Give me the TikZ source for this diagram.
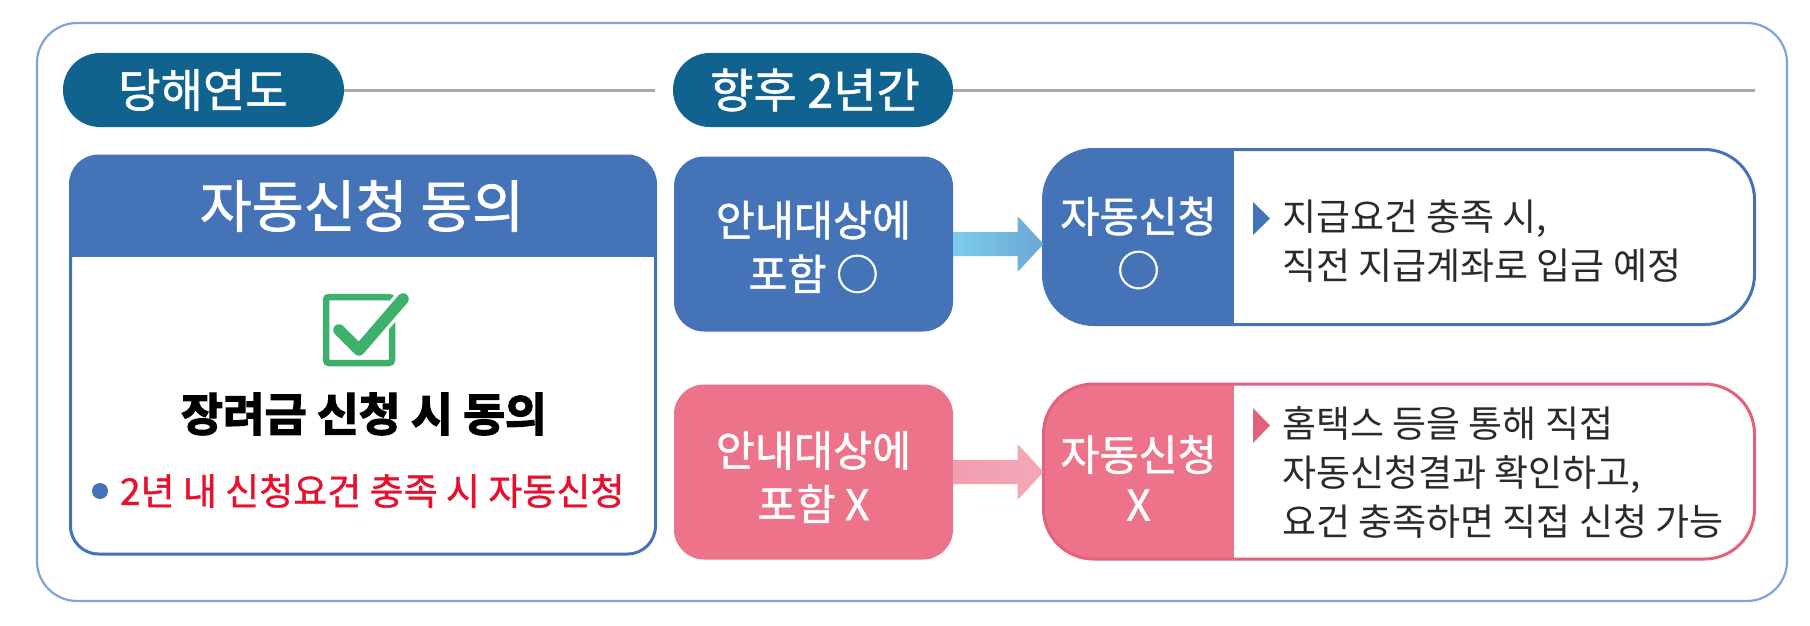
\documentclass[tikz,border=0pt]{standalone}
\usepackage{fontspec}
\usetikzlibrary{calc}
\setmainfont{Noto Sans CJK KR}
\newfontfamily\krmed[FakeBold=1.2]{Noto Sans CJK KR}
\newfontfamily\krred[FakeBold=1.1]{Noto Sans CJK KR}
\newfontfamily\krheavy[FakeBold=3.0]{Noto Sans CJK KR Bold}
\definecolor{outerline}{HTML}{7FA5D8}
\definecolor{teal}{HTML}{10628F}
\definecolor{blueb}{HTML}{4474B7}
\definecolor{pinkb}{HTML}{EC7389}
\definecolor{pinkline}{HTML}{E4607B}
\definecolor{grayline}{HTML}{A8A8A8}
\definecolor{redtext}{HTML}{E8112D}
\definecolor{bodytext}{HTML}{2A2A2A}
\definecolor{checkgreen}{HTML}{3DB16C}
\definecolor{arrowAl}{HTML}{7CCDEC}
\definecolor{arrowAr}{HTML}{6BA6D3}
\definecolor{arrowBl}{HTML}{F09FAE}
\definecolor{arrowBr}{HTML}{F4A8B6}
\newcommand{\fs}[2]{\fontsize{#1}{#2}\selectfont}
\tikzset{
  every node/.style={outer sep=0pt,inner sep=0pt},
  pillbox/.style={fill=teal,rounded corners=36.9pt,minimum width=#1,minimum height=74pt},
  pilltext/.style={text=white,font=\krmed},
  stepbox/.style={rounded corners=30pt,minimum width=279pt,minimum height=175pt,text=white,align=center},
  resultbox/.style 2 args={draw=#1,line width=3pt,fill=white,rounded corners=50pt,minimum width=711pt,minimum height=175pt,
    path picture={\fill[#2,sharp corners] (path picture bounding box.north west) rectangle ($(path picture bounding box.south west)+(190,0)$);}},
  resulthead/.style={text=white,align=center},
  bodyline/.style={anchor=west,align=left,text=bodytext,font=\fs{37}{49}},
  ruleline/.style={draw=grayline,line width=3pt},
}
\begin{document}
\begin{tikzpicture}[x=1pt,y=-1pt]
\useasboundingbox (0,0) rectangle (1810,626);
\fill[white] (0,0) rectangle (1810,626);
% outer frame
\node[draw=outerline,line width=2.2pt,rounded corners=40pt,minimum width=1750pt,minimum height=578pt] (frame) at (912,312) {};
% section pills
\node[pillbox=281pt] (pillA) at (203.5,90) {};
\node[pilltext,font=\krmed\fs{46}{50}] (pillAt) at (203,90) {당해연도};
\node[pillbox=280pt] (pillB) at (813,90) {};
\node[pilltext,font=\krmed\fs{47}{50}] (pillBt) at (815,90) {향후 2년간};
\coordinate (ruleAend) at (655,90);
\coordinate (ruleBend) at (1755,90);
\draw[ruleline] (pillA.east) -- (ruleAend);
\draw[ruleline] (pillB.east) -- (ruleBend);
% left card
\node[draw=blueb,line width=3pt,fill=white,rounded corners=28pt,minimum width=585pt,minimum height=398pt,
  path picture={\fill[blueb,sharp corners] (path picture bounding box.north west) rectangle ($(path picture bounding box.north east)+(0,101)$);}] (card) at (363,355) {};
\node[text=white,font=\krmed\fs{56.5}{60}] (cardhead) at (362,206) {자동신청 동의};
% check icon
\node[draw=checkgreen,line width=6.5pt,fill=white,rounded corners=3pt,minimum width=66pt,minimum height=66pt] (checkbox) at (359,330) {};
\coordinate (ck1) at (339,330);
\coordinate (ck2) at (359,350);
\coordinate (ck3) at (403,299);
\draw[white,line width=18pt,line cap=butt] (ck2) -- (ck3);
\draw[checkgreen,line width=11.5pt,line join=round,line cap=round] (ck1) -- (ck2) -- (ck3);
\node[text=black,font=\krheavy\fs{45.5}{50}] (agree) at (364,414) {장려금 신청 시 동의};
\node[circle,fill=blueb,minimum size=16pt] (bullet) at (100,491) {};
\node[anchor=west,text=redtext,font=\krred\fs{37}{44}] (redline) at (120,491) {2년 내 신청요건 충족 시 자동신청};
% upper row
\node[stepbox,fill=blueb,font=\krmed\fs{42.5}{54}] (stepA) at (813.5,244) {};
\node[text=white,align=center,font=\krmed\fs{42.5}{54}] (stepAt) at (813.5,247) {안내대상에\\포함 ○};
\node[resultbox={blueb}{blueb}] (resA) at (1399,237) {};
\node[resulthead,font=\krmed\fs{42.5}{54}] (resAh) at (1138.5,243) {자동신청\\○};
\node[bodyline] (resAt) at (1282,241) {지급요건 충족 시,\\직전 지급계좌로 입금 예정};
\coordinate (triA1) at (1253,202);
\coordinate (triA2) at (1270,218.5);
\coordinate (triA3) at (1253,235);
\fill[blueb] (triA1) -- (triA2) -- (triA3) -- cycle;
\shade[left color=arrowAl,right color=arrowAr]
  ($(stepA.east)+(0,-12)$) -- ($(stepA.east -| resA.west)+(-26,-12)$) -- ($(stepA.east -| resA.west)+(-26,-28)$)
  -- (stepA.east -| resA.west) -- ($(stepA.east -| resA.west)+(-26,28)$) -- ($(stepA.east -| resA.west)+(-26,12)$)
  -- ($(stepA.east)+(0,12)$) -- cycle;
% lower row
\node[stepbox,fill=pinkb] (stepB) at (813.5,472) {};
\node[text=white,align=center,font=\krmed\fs{42.5}{54}] (stepBt) at (813.5,477) {안내대상에\\포함 X};
\node[resultbox={pinkline}{pinkb}] (resB) at (1399,471.5) {};
\node[resulthead,font=\krmed\fs{42.5}{50}] (resBh) at (1138.5,478) {자동신청\\X};
\node[bodyline] (resBt) at (1282,472) {홈택스 등을 통해 직접\\자동신청결과 확인하고,\\요건 충족하면 직접 신청 가능};
\coordinate (triB1) at (1253,408);
\coordinate (triB2) at (1270,425.5);
\coordinate (triB3) at (1253,443);
\fill[pinkline] (triB1) -- (triB2) -- (triB3) -- cycle;
\shade[left color=arrowBl,right color=arrowBr]
  ($(stepB.east)+(0,-12)$) -- ($(stepB.east -| resB.west)+(-26,-12)$) -- ($(stepB.east -| resB.west)+(-26,-28)$)
  -- (stepB.east -| resB.west) -- ($(stepB.east -| resB.west)+(-26,28)$) -- ($(stepB.east -| resB.west)+(-26,12)$)
  -- ($(stepB.east)+(0,12)$) -- cycle;
\end{tikzpicture}
\end{document}
